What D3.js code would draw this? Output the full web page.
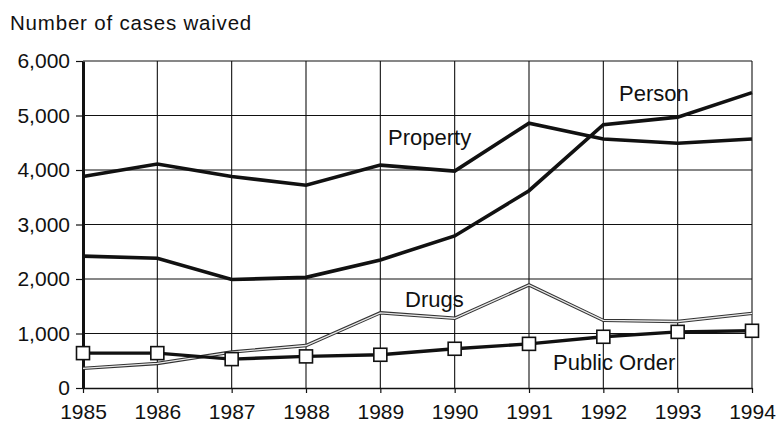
<!DOCTYPE html>
<html>
<head>
<meta charset="utf-8">
<script src="https://cdn.jsdelivr.net/npm/d3@7"></script>
<style>
  html, body { margin: 0; padding: 0; background: #fff; }
  svg { display: block; }
  text { font-family: "Liberation Sans", Arial, Helvetica, sans-serif; fill: #111; }
</style>
</head>
<body>
<svg id="chart" width="779" height="423"></svg>
<script>
// Juvenile cases waived to criminal court, by most serious offense
const years = [1985, 1986, 1987, 1988, 1989, 1990, 1991, 1992, 1993, 1994];
const person      = [2420, 2380, 1990, 2030, 2350, 2790, 3620, 4830, 4970, 5420];
const property    = [3880, 4110, 3880, 3720, 4090, 3980, 4860, 4570, 4490, 4570];
const drugs       = [360, 450, 660, 780, 1380, 1280, 1890, 1240, 1220, 1370];
const publicOrder = [640, 640, 530, 580, 610, 720, 810, 940, 1030, 1050];
const yTicks = [0, 1000, 2000, 3000, 4000, 5000, 6000];
const yTitle = "Number of cases waived";

const svg = d3.select("#chart");
const plotLeft = 83, plotRight = 752, plotTop = 61, plotBottom = 388;

const x = d3.scaleLinear().domain([1985, 1994]).range([plotLeft, plotRight]);
const y = d3.scaleLinear().domain([0, 6000]).range([plotBottom, plotTop]);

// grid
const grid = svg.append("g").attr("stroke", "#111").attr("stroke-width", 1.1);
grid.selectAll("line.h").data(yTicks.filter(d => d > 0)).join("line")
  .attr("class", "h")
  .attr("x1", plotLeft).attr("x2", plotRight)
  .attr("y1", d => y(d)).attr("y2", d => y(d));
grid.selectAll("line.v").data(years.slice(1)).join("line")
  .attr("class", "v")
  .attr("x1", d => x(d)).attr("x2", d => x(d))
  .attr("y1", plotTop).attr("y2", plotBottom);

// axes
const yAxis = svg.append("g")
  .attr("transform", `translate(${plotLeft},0)`)
  .call(d3.axisLeft(y).tickValues(yTicks).tickFormat(d3.format(",")).tickSize(7).tickPadding(6).tickSizeOuter(0));
const xAxis = svg.append("g")
  .attr("transform", `translate(0,${plotBottom})`)
  .call(d3.axisBottom(x).tickValues(years).tickFormat(d3.format("d")).tickSize(5).tickPadding(11).tickSizeOuter(0));

[yAxis, xAxis].forEach(g => {
  g.select(".domain").attr("stroke", "#111");
  g.selectAll(".tick line").attr("stroke", "#111").attr("stroke-width", 1.2);
  g.selectAll(".tick text").attr("font-size", 21).attr("fill", "#111")
    .style("font-family", '"Liberation Sans", Arial, sans-serif');
});
yAxis.select(".domain").attr("stroke-width", 3);
xAxis.select(".domain").attr("stroke-width", 1.6);

// title
svg.append("text").attr("x", 10).attr("y", 30)
  .attr("font-size", 20.5).attr("letter-spacing", 0.8).text(yTitle);

const line = d3.line().x((d, i) => x(years[i])).y(d => y(d));

// Person and Property: heavy solid lines
[person, property].forEach(s => {
  svg.append("path").datum(s).attr("d", line)
    .attr("fill", "none").attr("stroke", "#111").attr("stroke-width", 3.6)
    .attr("stroke-linejoin", "miter");
});

// Drugs: hollow double line
svg.append("path").datum(drugs).attr("d", line)
  .attr("fill", "none").attr("stroke", "#333").attr("stroke-width", 3.4);
svg.append("path").datum(drugs).attr("d", line)
  .attr("fill", "none").attr("stroke", "#e8e8e8").attr("stroke-width", 1.3);

// Public Order: solid line with square markers
svg.append("path").datum(publicOrder).attr("d", line)
  .attr("fill", "none").attr("stroke", "#111").attr("stroke-width", 3.4);
const m = 13;
svg.append("g").selectAll("rect").data(publicOrder).join("rect")
  .attr("x", (d, i) => x(years[i]) - m / 2)
  .attr("y", d => y(d) - m / 2)
  .attr("width", m).attr("height", m)
  .attr("fill", "#fff").attr("stroke", "#111").attr("stroke-width", 1.6);

// series labels
const labels = [
  { text: "Person", x: 619, y: 101 },
  { text: "Property", x: 388, y: 145 },
  { text: "Drugs", x: 405, y: 307 },
  { text: "Public Order", x: 553, y: 370 }
];
svg.append("g").selectAll("text").data(labels).join("text")
  .attr("x", d => d.x).attr("y", d => d.y)
  .attr("font-size", 22).text(d => d.text);
</script>
</body>
</html>
